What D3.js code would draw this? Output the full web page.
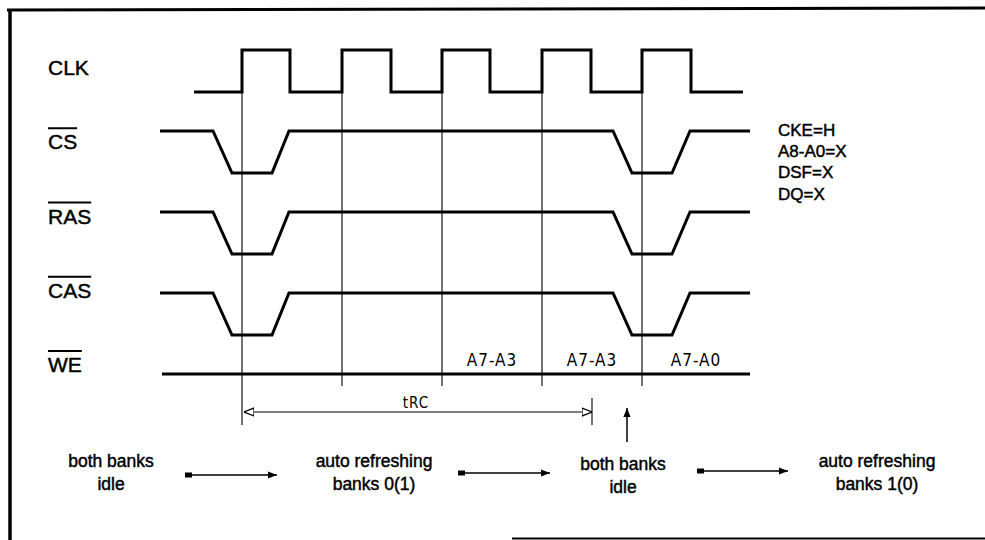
<!DOCTYPE html>
<html>
<head>
<meta charset="utf-8">
<script src="https://cdn.jsdelivr.net/npm/d3@7"></script>
<style>
  body { margin: 0; background: #fff; }
  svg { display: block; }
  .sans { font-family: 'Liberation Sans', Arial, Helvetica, sans-serif; fill: #000; stroke: #000; stroke-width: 0.45px; }
  .narrow { font-family: 'DejaVu Sans Condensed', 'DejaVu Sans', sans-serif; font-stretch: condensed; fill: #000; letter-spacing: 1px; }
</style>
</head>
<body>
<svg id="chart"></svg>
<script>
// signal rows (top to bottom) and which ones are active low
const signals = ['CLK', 'CS', 'RAS', 'CAS', 'WE'];
const activeLow = ['CS', 'RAS', 'CAS', 'WE'];

// clock edges, in clock cycles (0 = first rising edge)
const clkStart = -0.48, clkEnd = 5.01;
const clkRise = [0, 1, 2, 3, 4];
const clkFall = [0.48, 1.49, 2.48, 3.49, 4.49];

// CS / RAS / CAS waveform: [cycle, level]
const strobeWave = [[-0.82, 1], [-0.29, 1], [-0.10, 0], [0.30, 0], [0.47, 1],
  [3.71, 1], [3.90, 0], [4.30, 0], [4.48, 1], [5.08, 1]];
const weWave = [[-0.80, 1], [5.08, 1]];

// address bus notes on WE row
const busText = ['A7-A3', 'A7-A3', 'A7-A0'];
const busFrom = [2, 3, 4];
const busTo = [3, 4, 5.08];

// guides and timing
const guides = [0, 1, 2, 3, 4];
const trc = [0.02, 3.5];
const trcLabel = 'tRC';
const upArrowAt = 3.85;

// conditions at right
const notes = ['CKE=H', 'A8-A0=X', 'DSF=X', 'DQ=X'];

// state sequence under the diagram
const stateText = [['both banks', 'idle'], ['auto refreshing', 'banks 0(1)'],
  ['both banks', 'idle'], ['auto refreshing', 'banks 1(0)']];
const stateAt = [-1.31, 1.32, 3.81, 6.35];
const stepArrows = [[-0.57, 0.35], [2.16, 3.08], [4.55, 5.46]];

const W = 985, H = 540;
const svg = d3.select('#chart').attr('width', W).attr('height', H);

// scales
let x = d3.scaleLinear().domain([0, 1]).range([242, 342]);
let rowTop = d3.scalePoint().domain(signals).range([50, 374]);
let labelBase = d3.scalePoint().domain(signals).range([75, 372]);
let swing = 42;
let y = (sig, lvl) => rowTop(sig) + (1 - lvl) * swing;

let defs = svg.append('defs');
defs.append('marker').attr('id', 'open')
  .attr('viewBox', '0 0 10 10').attr('refX', 10).attr('refY', 5)
  .attr('markerWidth', 10).attr('markerHeight', 10).attr('markerUnits', 'userSpaceOnUse')
  .attr('orient', 'auto-start-reverse')
  .append('path').attr('d', 'M0,1 L10,5 L0,9 Z')
  .attr('fill', '#fff').attr('stroke', '#000').attr('stroke-width', 1.2);
defs.append('marker').attr('id', 'solid')
  .attr('viewBox', '0 0 10 10').attr('refX', 10).attr('refY', 5)
  .attr('markerWidth', 11).attr('markerHeight', 9).attr('markerUnits', 'userSpaceOnUse')
  .attr('orient', 'auto')
  .append('path').attr('d', 'M0,1 L10,5 L0,9 Z').attr('fill', '#000');

// frame
svg.append('line').attr('x1', 7).attr('y1', 10).attr('x2', W).attr('y2', 8)
  .attr('stroke', '#000').attr('stroke-width', 3);
svg.append('line').attr('x1', 10).attr('y1', 9).attr('x2', 10).attr('y2', H)
  .attr('stroke', '#000').attr('stroke-width', 3.5);
svg.append('line').attr('x1', 512).attr('y1', 538.5).attr('x2', W).attr('y2', 538.5)
  .attr('stroke', '#000').attr('stroke-width', 2);

// guide lines at rising edges
svg.append('g').selectAll('line').data(guides).enter().append('line')
  .attr('x1', d => x(d)).attr('x2', d => x(d))
  .attr('y1', y('CLK', 0))
  .attr('y2', d => d === 0 ? 425 : 386)
  .attr('stroke', '#000').attr('stroke-width', 1.1);

// clock
let clkPts = [[clkStart, 0]];
clkRise.forEach((r, i) => {
  clkPts.push([r, 0], [r, 1], [clkFall[i], 1], [clkFall[i], 0]);
});
clkPts.push([clkEnd, 0]);

let wave = sig => d3.line().x(d => x(d[0])).y(d => y(sig, d[1]));

let waves = svg.append('g').attr('fill', 'none').attr('stroke', '#000')
  .attr('stroke-width', 3).attr('stroke-linejoin', 'miter');
waves.append('path').datum(clkPts).attr('d', wave('CLK'));
['CS', 'RAS', 'CAS'].forEach(s => {
  waves.append('path').datum(strobeWave).attr('d', wave(s));
});
waves.append('path').datum(weWave).attr('d', wave('WE'));

// signal names
let names = svg.append('g');
signals.forEach(s => {
  let t = names.append('text').attr('class', 'sans')
    .attr('x', 48).attr('y', labelBase(s))
    .attr('font-size', 21).text(s);
  if (activeLow.includes(s)) {
    let w = t.node().getComputedTextLength();
    names.append('line').attr('x1', 48).attr('x2', 48 + w)
      .attr('y1', labelBase(s) - 21).attr('y2', labelBase(s) - 21)
      .attr('stroke', '#000').attr('stroke-width', 2);
  }
});

// bus labels
svg.append('g').selectAll('text').data(busText).enter().append('text')
  .attr('class', 'narrow').attr('font-size', 17)
  .attr('text-anchor', 'middle')
  .attr('x', (d, i) => (x(busFrom[i]) + x(busTo[i])) / 2)
  .attr('y', y('WE', 1) - 8)
  .text(d => d);

// notes
svg.append('g').selectAll('text').data(notes).enter().append('text')
  .attr('class', 'sans').attr('font-size', 17)
  .attr('x', 778).attr('y', (d, i) => 135.5 + i * 21.4)
  .text(d => d);

// tRC
svg.append('line').attr('x1', x(trc[1])).attr('x2', x(trc[1]))
  .attr('y1', 398).attr('y2', 425).attr('stroke', '#000').attr('stroke-width', 1.1);
svg.append('line').attr('x1', x(trc[0])).attr('x2', x(trc[1]))
  .attr('y1', 412).attr('y2', 412)
  .attr('stroke', '#000').attr('stroke-width', 1.1)
  .attr('marker-start', 'url(#open)').attr('marker-end', 'url(#open)');
svg.append('text').attr('class', 'narrow').attr('font-size', 15)
  .attr('text-anchor', 'middle').attr('x', 416).attr('y', 408).text(trcLabel);

// up arrow
svg.append('line').attr('x1', x(upArrowAt)).attr('x2', x(upArrowAt))
  .attr('y1', 442).attr('y2', 408)
  .attr('stroke', '#000').attr('stroke-width', 1.5).attr('marker-end', 'url(#solid)');

// states
let states = svg.append('g');
stateText.forEach((lines, i) => {
  let t = states.append('text').attr('class', 'sans').attr('font-size', 17.5)
    .attr('text-anchor', 'middle');
  lines.forEach((ln, j) => {
    t.append('tspan').attr('x', x(stateAt[i])).attr('y', 467 + j * 23 + (i === 2 ? 3 : 0)).text(ln);
  });
});

// step arrows
stepArrows.forEach((a, i) => {
  let yy = 475 - i * 2;
  states.append('rect').attr('x', x(a[0])).attr('y', yy - 2.5)
    .attr('width', 7).attr('height', 5).attr('fill', '#000');
  states.append('line').attr('x1', x(a[0]) + 6).attr('x2', x(a[1]))
    .attr('y1', yy).attr('y2', yy)
    .attr('stroke', '#000').attr('stroke-width', 1.5).attr('marker-end', 'url(#solid)');
});
</script>
</body>
</html>
